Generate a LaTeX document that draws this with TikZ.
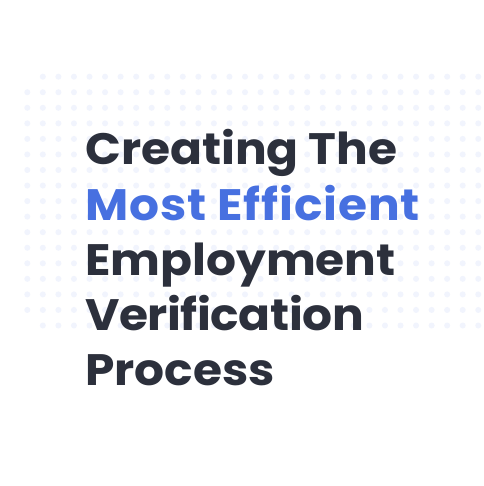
\documentclass[tikz,border=0pt]{standalone}
\usepackage{fontspec}
\newfontfamily\titlefont{Poppins}[FakeStretch=1.07,Ligatures={NoCommon}]
\newfontfamily\titlefontwide{Poppins}[FakeStretch=1.07,Ligatures={NoCommon},LetterSpace=2]
\newfontfamily\titlefonttight{Poppins}[FakeStretch=1.07,Ligatures={NoCommon},LetterSpace=-1]
\definecolor{dotc}{HTML}{F1F4FD}
\definecolor{darktext}{HTML}{2C303C}
\definecolor{bluetext}{HTML}{4770E0}
\begin{document}
\begin{tikzpicture}[x=1bp,y=-1bp,
  titleline/.style={anchor=base west,inner sep=0pt,font=\titlefont\bfseries\fontsize{44bp}{55bp}\selectfont,text=darktext}]
\useasboundingbox[fill=white] (0,0) rectangle (484,486);
\foreach \i in {0,...,29}{
  \foreach \j in {0,...,16}{
    \pgfmathtruncatemacro{\skip}{(\i==0)&&((\j==0)||(\j==16))}
    \ifnum\skip=0
      \fill[dotc] (27.3+15.55*\i,76.7+15.55*\j) circle[radius=3];
    \fi
  }
}
\node[titleline] (l1) at (85,165) {Creating The};
\node[titleline,text=bluetext,font=\titlefontwide\bfseries\fontsize{44bp}{55bp}\selectfont] (l2) at (85,220) {Most Efficient};
\node[titleline] (l3) at (85,275) {Employment};
\node[titleline,font=\titlefonttight\bfseries\fontsize{44bp}{55bp}\selectfont] (l4) at (85,330) {Verification};
\node[titleline] (l5) at (85,385) {Process};
\end{tikzpicture}
\end{document}
